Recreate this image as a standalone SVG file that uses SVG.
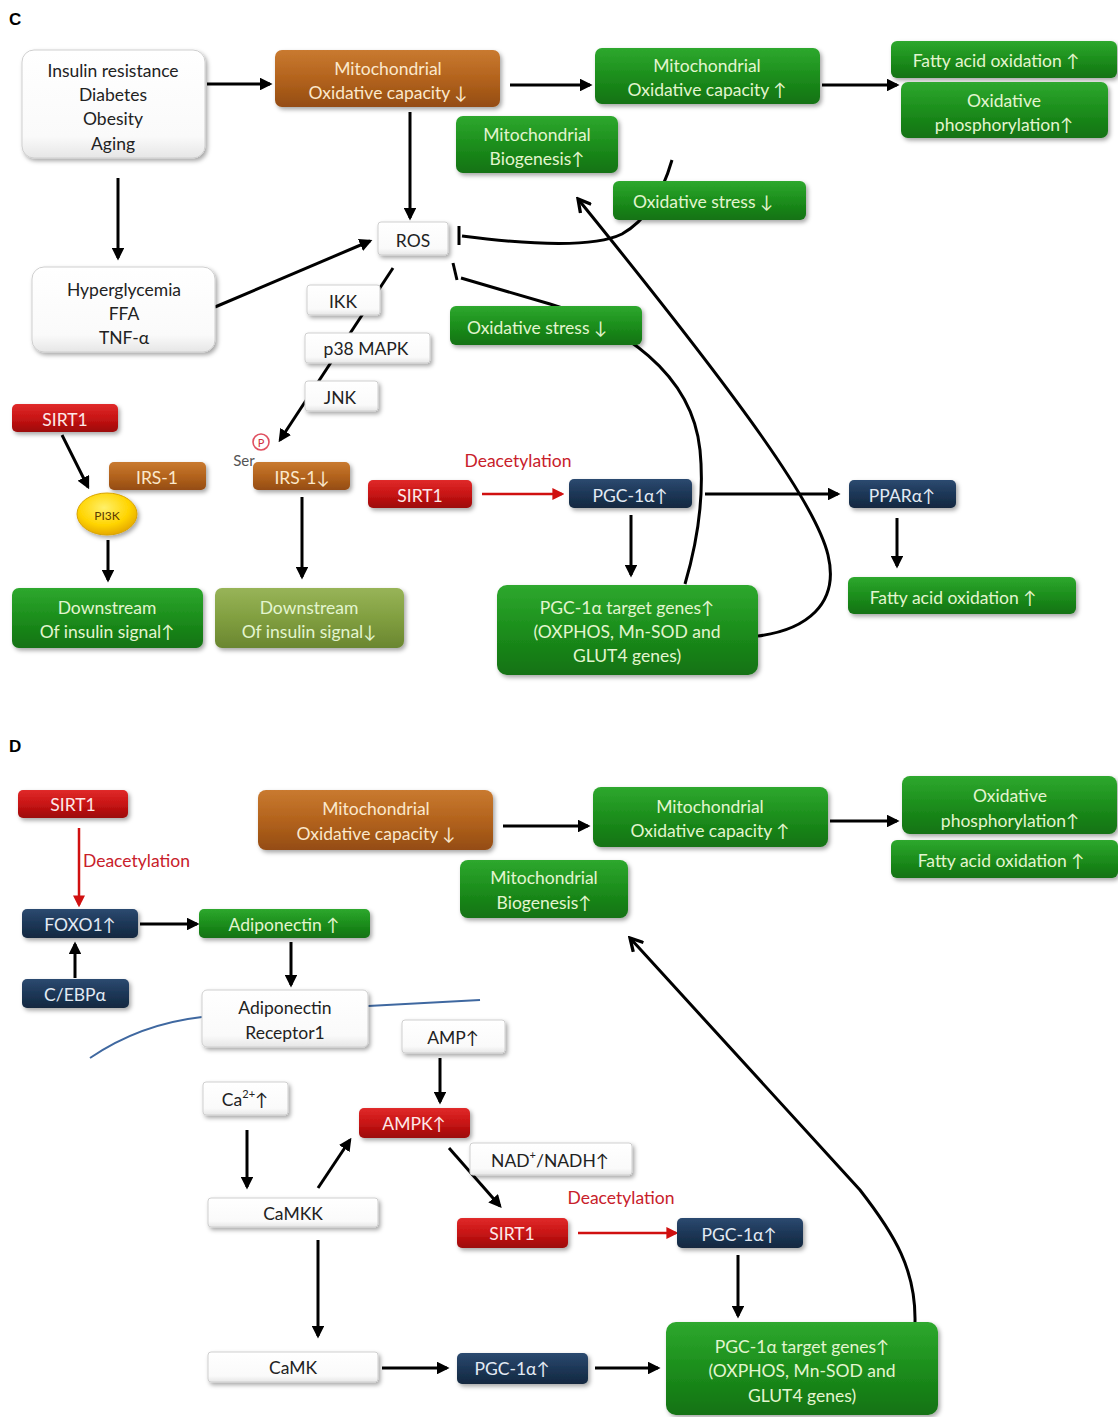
<svg xmlns="http://www.w3.org/2000/svg" width="1118" height="1417" viewBox="0 0 1118 1417">
<defs>
<linearGradient id="gG" x1="0" y1="0" x2="0" y2="1"><stop offset="0" stop-color="#2ea82e"/><stop offset="0.5" stop-color="#1c8e1c"/><stop offset="1" stop-color="#127212"/></linearGradient>
<linearGradient id="gB" x1="0" y1="0" x2="0" y2="1"><stop offset="0" stop-color="#c97a30"/><stop offset="0.5" stop-color="#b3631d"/><stop offset="1" stop-color="#944c12"/></linearGradient>
<linearGradient id="gR" x1="0" y1="0" x2="0" y2="1"><stop offset="0" stop-color="#e02a2a"/><stop offset="0.5" stop-color="#c81414"/><stop offset="1" stop-color="#9c0a0a"/></linearGradient>
<linearGradient id="gN" x1="0" y1="0" x2="0" y2="1"><stop offset="0" stop-color="#2c4a70"/><stop offset="0.5" stop-color="#1d3757"/><stop offset="1" stop-color="#132840"/></linearGradient>
<linearGradient id="gO" x1="0" y1="0" x2="0" y2="1"><stop offset="0" stop-color="#98b458"/><stop offset="0.5" stop-color="#819f40"/><stop offset="1" stop-color="#6a8630"/></linearGradient>
<linearGradient id="gW" x1="0" y1="0" x2="0" y2="1"><stop offset="0" stop-color="#ffffff"/><stop offset="0.8" stop-color="#fafafa"/><stop offset="1" stop-color="#e6e6e6"/></linearGradient>
<radialGradient id="gY" cx="0.45" cy="0.35" r="0.7"><stop offset="0" stop-color="#fff06a"/><stop offset="0.6" stop-color="#ffd400"/><stop offset="1" stop-color="#e0a000"/></radialGradient>
<filter id="sh" x="-10%" y="-20%" width="130%" height="150%"><feDropShadow dx="2" dy="2.5" stdDeviation="2" flood-color="#000" flood-opacity="0.35"/></filter>
<marker id="ah" viewBox="0 0 10 10" refX="8" refY="5" markerWidth="4.3" markerHeight="4.3" orient="auto"><path d="M0,0 L10,5 L0,10 z" fill="#000"/></marker>
<marker id="ahr" viewBox="0 0 10 10" refX="8" refY="5" markerWidth="4.8" markerHeight="4.8" orient="auto"><path d="M0,0 L10,5 L0,10 z" fill="#d01010"/></marker>
<marker id="oh" viewBox="0 0 12 12" refX="10" refY="6" markerWidth="5.5" markerHeight="5.5" orient="auto"><path d="M1,1 L10,6 L1,11" fill="none" stroke="#000" stroke-width="2.4"/></marker>
<style>
.g{fill:url(#gG);filter:url(#sh)}
.b{fill:url(#gB);filter:url(#sh)}
.r{fill:url(#gR);filter:url(#sh)}
.n{fill:url(#gN);filter:url(#sh)}
.o{fill:url(#gO);filter:url(#sh)}
.w{fill:url(#gW);stroke:#cfcfcf;stroke-width:1;filter:url(#sh)}
text{font-family:Lato,"DejaVu Sans",sans-serif;font-size:17.5px;text-anchor:middle;dominant-baseline:central}
.tg{fill:#e3f5cf}
.tb{fill:#fbe8cc}
.tr{fill:#fde8e8}
.tn{fill:#e2eaf4}
.tk{fill:#222}
.red{fill:#c8202a}
.lab{font-family:"Liberation Sans",Arial,sans-serif;font-weight:bold;font-size:17px;text-anchor:start}
.a{stroke:#000;stroke-width:3;fill:none;marker-end:url(#ah)}
.ar{stroke:#d01010;stroke-width:2.5;fill:none;marker-end:url(#ahr)}
.l{stroke:#000;stroke-width:3;fill:none}
</style>
</defs>
<rect width="1118" height="1417" fill="#fff"/>
<text class="lab" x="9" y="19">C</text>
<text class="lab" x="9" y="746">D</text>

<g id="connectors">
<!-- Panel C -->
<line class="a" x1="207" y1="84" x2="270" y2="84"/>
<line class="a" x1="510" y1="85" x2="590" y2="85"/>
<line class="a" x1="822" y1="85" x2="897" y2="85"/>
<line class="a" x1="410" y1="112" x2="410" y2="218"/>
<line class="a" x1="118" y1="178" x2="118" y2="258"/>
<line class="a" x1="215" y1="307" x2="370" y2="241"/>
<path class="l" d="M672,160 Q656,215 622,234 Q585,252 462,236"/>
<line class="l" x1="459" y1="226" x2="459" y2="245"/>
<path class="l" d="M461,278 L550,304 C620,325 692,372 700,450 C705,500 695,550 685,584"/>
<line class="l" x1="453" y1="263" x2="457" y2="280"/>
<path class="l" d="M758,636 C805,630 840,605 828,555 C816,505 745,405 578,199" marker-end="url(#oh)"/>
<line class="a" x1="393" y1="268" x2="280" y2="440"/>
<line class="a" x1="62" y1="435" x2="88" y2="487"/>
<line class="a" x1="108" y1="540" x2="108" y2="580"/>
<line class="a" x1="302" y1="497" x2="302" y2="577"/>
<line class="ar" x1="482" y1="494" x2="562" y2="494"/>
<line class="a" x1="705" y1="494" x2="838" y2="494"/>
<line class="a" x1="897" y1="518" x2="897" y2="566"/>
<line class="a" x1="631" y1="515" x2="631" y2="575"/>
<!-- Panel D -->
<line class="ar" x1="79" y1="828" x2="79" y2="905"/>
<line class="a" x1="140" y1="924" x2="197" y2="924"/>
<line class="a" x1="75" y1="978" x2="75" y2="944"/>
<line class="a" x1="291" y1="942" x2="291" y2="985"/>
<path d="M90,1058 Q140,1024 202,1017" stroke="#3f68a0" stroke-width="2" fill="none"/>
<path d="M368,1006 L480,1000" stroke="#3f68a0" stroke-width="2" fill="none"/>
<line class="a" x1="503" y1="826" x2="588" y2="826"/>
<line class="a" x1="830" y1="821" x2="897" y2="821"/>
<line class="a" x1="440" y1="1058" x2="440" y2="1102"/>
<line class="a" x1="247" y1="1130" x2="247" y2="1187"/>
<line class="a" x1="318" y1="1188" x2="350" y2="1140"/>
<line class="a" x1="449" y1="1148" x2="500" y2="1206"/>
<line class="ar" x1="578" y1="1233" x2="676" y2="1233"/>
<line class="a" x1="738" y1="1255" x2="738" y2="1316"/>
<line class="a" x1="318" y1="1240" x2="318" y2="1336"/>
<line class="a" x1="382" y1="1368" x2="447" y2="1368"/>
<line class="a" x1="595" y1="1368" x2="658" y2="1368"/>
<path class="l" d="M915,1322 C916,1270 895,1235 860,1190 L630,938" marker-end="url(#oh)"/>
</g>

<!-- Panel C nodes -->
<g id="c-insulin"><rect class="w" x="22" y="50" width="183" height="108" rx="12"/>
<text class="tk" x="113" y="70">Insulin resistance</text><text class="tk" x="113" y="94">Diabetes</text><text class="tk" x="113" y="118">Obesity</text><text class="tk" x="113" y="143">Aging</text></g>
<g id="c-mito-down"><rect class="b" x="275" y="50" width="225" height="57" rx="7"/>
<text class="tb" x="388" y="68">Mitochondrial</text><text class="tb" x="388" y="92">Oxidative capacity ↓</text></g>
<g id="c-mito-up"><rect class="g" x="595" y="48" width="225" height="56" rx="7"/>
<text class="tg" x="707" y="65">Mitochondrial</text><text class="tg" x="707" y="89">Oxidative capacity ↑</text></g>
<g id="c-fao1"><rect class="g" x="891" y="41" width="226" height="37" rx="6"/>
<text class="tg" x="996" y="60">Fatty acid oxidation ↑</text></g>
<g id="c-oxphos"><rect class="g" x="901" y="82" width="207" height="56" rx="7"/>
<text class="tg" x="1004" y="100">Oxidative</text><text class="tg" x="1004" y="124">phosphorylation↑</text></g>
<g id="c-biogenesis"><rect class="g" x="456" y="116" width="162" height="57" rx="7"/>
<text class="tg" x="537" y="134">Mitochondrial</text><text class="tg" x="537" y="158">Biogenesis↑</text></g>
<g id="c-ros"><rect class="w" x="378" y="222" width="70" height="33" rx="3"/>
<text class="tk" x="413" y="240">ROS</text></g>
<g id="c-hyper"><rect class="w" x="32" y="267" width="183" height="85" rx="12"/>
<text class="tk" x="124" y="289">Hyperglycemia</text><text class="tk" x="124" y="313">FFA</text><text class="tk" x="124" y="337">TNF-α</text></g>
<g id="c-oxstress1"><rect class="g" x="613" y="181" width="193" height="39" rx="6"/>
<text class="tg" x="703" y="201">Oxidative stress ↓</text></g>
<g id="c-oxstress2"><rect class="g" x="450" y="306" width="192" height="39" rx="6"/>
<text class="tg" x="537" y="327">Oxidative stress ↓</text></g>
<g id="c-ikk"><rect class="w" x="307" y="285" width="73" height="30" rx="3"/>
<text class="tk" x="343" y="301">IKK</text></g>
<g id="c-p38"><rect class="w" x="305" y="333" width="125" height="30" rx="3"/>
<text class="tk" x="366" y="348">p38 MAPK</text></g>
<g id="c-jnk"><rect class="w" x="305" y="381" width="73" height="30" rx="3"/>
<text class="tk" x="340" y="397">JNK</text></g>
<g id="c-sirt1-left"><rect class="r" x="12" y="404" width="106" height="28" rx="5"/>
<text class="tr" x="65" y="419">SIRT1</text></g>
<g id="c-irs1"><rect class="b" x="109" y="462" width="97" height="28" rx="5"/>
<text class="tb" x="157" y="477">IRS-1</text></g>
<g id="c-pi3k"><ellipse cx="107" cy="514" rx="30" ry="21" fill="url(#gY)" stroke="#d9a400" stroke-width="1" filter="url(#sh)"/>
<text x="107" y="515" style="font-size:12px;fill:#5a3a00">PI3K</text></g>
<g id="c-irs1-down"><rect class="b" x="253" y="462" width="97" height="28" rx="5"/>
<text class="tb" x="302" y="477">IRS-1↓</text></g>
<g id="c-phospho"><circle cx="261" cy="442" r="8" fill="#fff" stroke="#e05060" stroke-width="1.6"/>
<text x="261" y="442" style="font-size:11px;fill:#d03040">P</text>
<text x="244" y="460" style="font-size:15px;fill:#555">Ser</text></g>
<g id="c-downstream-up"><rect class="g" x="12" y="588" width="191" height="60" rx="7"/>
<text class="tg" x="107" y="607">Downstream</text><text class="tg" x="107" y="631">Of insulin signal↑</text></g>
<g id="c-downstream-down"><rect class="o" x="215" y="588" width="189" height="60" rx="7"/>
<text class="tg" x="309" y="607">Downstream</text><text class="tg" x="309" y="631">Of insulin signal↓</text></g>
<g id="c-sirt1-mid"><rect class="r" x="368" y="480" width="104" height="28" rx="5"/>
<text class="tr" x="420" y="495">SIRT1</text></g>
<text class="red" x="518" y="460">Deacetylation</text>
<g id="c-pgc"><rect class="n" x="569" y="479" width="123" height="29" rx="5"/>
<text class="tn" x="630" y="495">PGC-1α↑</text></g>
<g id="c-ppar"><rect class="n" x="849" y="480" width="107" height="28" rx="5"/>
<text class="tn" x="902" y="495">PPARα↑</text></g>
<g id="c-fao2"><rect class="g" x="848" y="577" width="228" height="37" rx="6"/>
<text class="tg" x="953" y="597">Fatty acid oxidation ↑</text></g>
<g id="c-pgc-targets"><rect class="g" x="497" y="585" width="261" height="90" rx="10"/>
<text class="tg" x="627" y="607">PGC-1α target genes↑</text><text class="tg" x="627" y="631">(OXPHOS, Mn-SOD and</text><text class="tg" x="627" y="655">GLUT4 genes)</text></g>

<!-- Panel D nodes -->
<g id="d-sirt1"><rect class="r" x="18" y="790" width="110" height="28" rx="5"/>
<text class="tr" x="73" y="804">SIRT1</text></g>
<text class="red" x="83" y="860" style="text-anchor:start">Deacetylation</text>
<g id="d-foxo1"><rect class="n" x="22" y="909" width="116" height="29" rx="5"/>
<text class="tn" x="80" y="924">FOXO1↑</text></g>
<g id="d-adiponectin"><rect class="g" x="199" y="909" width="171" height="29" rx="5"/>
<text class="tg" x="284" y="924">Adiponectin ↑</text></g>
<g id="d-cebpa"><rect class="n" x="22" y="979" width="107" height="29" rx="5"/>
<text class="tn" x="75" y="994">C/EBPα</text></g>
<g id="d-adipor1"><rect class="w" x="202" y="990" width="166" height="57" rx="5"/>
<text class="tk" x="285" y="1007">Adiponectin</text><text class="tk" x="285" y="1032">Receptor1</text></g>
<g id="d-mito-down"><rect class="b" x="258" y="790" width="235" height="60" rx="8"/>
<text class="tb" x="376" y="808">Mitochondrial</text><text class="tb" x="376" y="833">Oxidative capacity ↓</text></g>
<g id="d-mito-up"><rect class="g" x="593" y="787" width="235" height="60" rx="8"/>
<text class="tg" x="710" y="806">Mitochondrial</text><text class="tg" x="710" y="830">Oxidative capacity ↑</text></g>
<g id="d-oxphos"><rect class="g" x="902" y="776" width="215" height="58" rx="8"/>
<text class="tg" x="1010" y="795">Oxidative</text><text class="tg" x="1010" y="820">phosphorylation↑</text></g>
<g id="d-fao"><rect class="g" x="891" y="840" width="227" height="38" rx="6"/>
<text class="tg" x="1001" y="860">Fatty acid oxidation ↑</text></g>
<g id="d-biogenesis"><rect class="g" x="460" y="860" width="168" height="58" rx="8"/>
<text class="tg" x="544" y="877">Mitochondrial</text><text class="tg" x="544" y="902">Biogenesis↑</text></g>
<g id="d-amp"><rect class="w" x="402" y="1020" width="103" height="33" rx="3"/>
<text class="tk" x="453" y="1037">AMP↑</text></g>
<g id="d-ca"><rect class="w" x="203" y="1082" width="85" height="33" rx="3"/>
<text class="tk" x="245" y="1099">Ca<tspan dy="-6" style="font-size:11px">2+</tspan><tspan dy="6">↑</tspan></text></g>
<g id="d-ampk"><rect class="r" x="359" y="1108" width="111" height="30" rx="5"/>
<text class="tr" x="414" y="1123">AMPK↑</text></g>
<g id="d-nad"><rect class="w" x="470" y="1143" width="162" height="32" rx="3"/>
<text class="tk" x="550" y="1160">NAD<tspan dy="-6" style="font-size:11px">+</tspan><tspan dy="6">/NADH↑</tspan></text></g>
<g id="d-sirt1-2"><rect class="r" x="457" y="1218" width="111" height="30" rx="5"/>
<text class="tr" x="512" y="1233">SIRT1</text></g>
<text class="red" x="621" y="1197">Deacetylation</text>
<g id="d-pgc1"><rect class="n" x="677" y="1218" width="126" height="30" rx="5"/>
<text class="tn" x="739" y="1234">PGC-1α↑</text></g>
<g id="d-camkk"><rect class="w" x="208" y="1198" width="170" height="29" rx="3"/>
<text class="tk" x="293" y="1213">CaMKK</text></g>
<g id="d-camk"><rect class="w" x="208" y="1352" width="170" height="30" rx="3"/>
<text class="tk" x="293" y="1367">CaMK</text></g>
<g id="d-pgc2"><rect class="n" x="457" y="1353" width="131" height="31" rx="5"/>
<text class="tn" x="512" y="1368">PGC-1α↑</text></g>
<g id="d-pgc-targets"><rect class="g" x="666" y="1322" width="272" height="93" rx="10"/>
<text class="tg" x="802" y="1346">PGC-1α target genes↑</text><text class="tg" x="802" y="1370">(OXPHOS, Mn-SOD and</text><text class="tg" x="802" y="1395">GLUT4 genes)</text></g>
</svg>
